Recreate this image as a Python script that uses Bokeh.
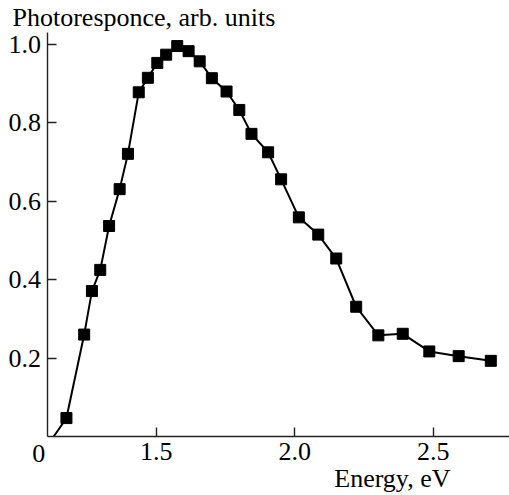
from bokeh.plotting import figure
from bokeh.models import Range1d, FixedTicker, Label, LinearAxis
from bokeh.embed import file_html
from bokeh.resources import INLINE

# Data
energy = [1.176, 1.240, 1.268, 1.298, 1.330, 1.368, 1.398, 1.437, 1.470, 1.504,
          1.536, 1.576, 1.617, 1.657, 1.701, 1.754, 1.800, 1.844, 1.904, 1.951,
          2.015, 2.085, 2.150, 2.222, 2.302, 2.390, 2.486, 2.592, 2.708]
response = [0.047, 0.260, 0.371, 0.425, 0.537, 0.631, 0.721, 0.878, 0.915, 0.953,
            0.974, 0.996, 0.983, 0.957, 0.914, 0.880, 0.833, 0.772, 0.725, 0.656,
            0.559, 0.515, 0.454, 0.331, 0.258, 0.262, 0.217, 0.205, 0.193]
# curve start on the energy axis
curve_start_x = [1.13]
curve_start_y = [0.0]

x_ticks = [1.5, 2.0, 2.5]
y_ticks = [0.2, 0.4, 0.6, 0.8, 1.0]

FONT = "Liberation Serif"
FS = "26px"

X_AXIS_START, X_AXIS_END = 1.109, 2.775
Y_AXIS_START, Y_AXIS_END = 0.0, 1.031

p = figure(width=509, height=495, output_backend="svg", toolbar_location=None,
           x_range=Range1d(0.9379, 2.7755), y_range=Range1d(-0.1505, 1.1122),
           x_axis_type=None, y_axis_type=None,
           min_border_left=0, min_border_right=0, min_border_top=0,
           min_border_bottom=0)
p.outline_line_color = None
p.background_fill_color = "white"
p.border_fill_color = "white"

xaxis = LinearAxis(ticker=FixedTicker(ticks=x_ticks), fixed_location=0.0,
                   bounds=(X_AXIS_START, X_AXIS_END),
                   major_label_overrides={1.5: "1.5", 2.0: "2.0", 2.5: "2.5"},
                   major_label_standoff=6)
yaxis = LinearAxis(ticker=FixedTicker(ticks=y_ticks), fixed_location=X_AXIS_START,
                   bounds=(Y_AXIS_START, Y_AXIS_END),
                   major_label_overrides={0.2: "0.2", 0.4: "0.4", 0.6: "0.6",
                                          0.8: "0.8", 1.0: "1.0"},
                   major_label_standoff=7)
for ax in (xaxis, yaxis):
    ax.major_label_text_font = FONT
    ax.major_label_text_font_size = FS
    ax.major_label_text_color = "black"
    ax.axis_line_color = "#222222"
    ax.axis_line_width = 1.4
    ax.major_tick_line_color = "#222222"
    ax.major_tick_line_width = 1.4
    ax.major_tick_in = 9
    ax.major_tick_out = 0
    ax.minor_tick_line_color = None
p.add_layout(xaxis, "below")
p.add_layout(yaxis, "left")

cx = curve_start_x + energy
cy = curve_start_y + response
p.line(cx, cy, line_color="black", line_width=2)
p.scatter(energy, response, marker="square", size=11, fill_color="black", line_color="black")

p.add_layout(Label(x=0.9812, y=1.069, text="Photoresponce, arb. units",
                   text_font=FONT, text_font_size=FS,
                   text_color="black", text_align="left", text_baseline="alphabetic"))
p.add_layout(Label(x=2.5625, y=-0.1063, text="Energy, eV",
                   text_font=FONT, text_font_size=FS,
                   text_color="black", text_align="right", text_baseline="alphabetic"))
p.add_layout(Label(x=1.0762, y=-0.0433, text="0",
                   text_font=FONT, text_font_size=FS,
                   text_color="black", text_align="center", text_baseline="alphabetic"))

open("out.html", "w").write(file_html(p, INLINE))
